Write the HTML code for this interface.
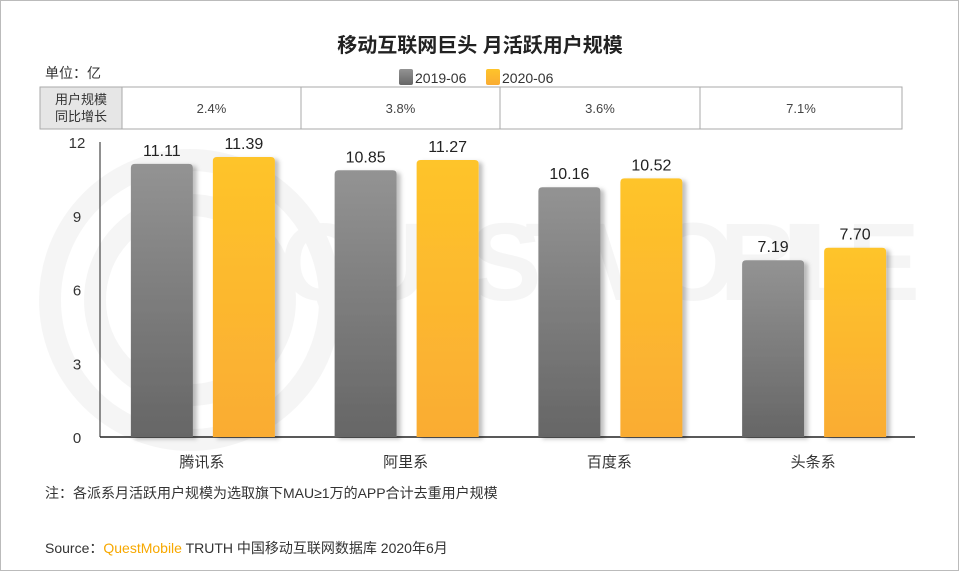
<!DOCTYPE html>
<html><head><meta charset="utf-8"><style>
body{margin:0;background:#fff;}
#wrap{position:relative;width:960px;height:572px;overflow:hidden;font-family:"Liberation Sans","Noto Sans CJK SC",sans-serif;}
</style></head><body>
<div id="wrap">
<svg id="svg" width="960" height="572" xmlns="http://www.w3.org/2000/svg">
<defs>
<linearGradient id="gGray" x1="0" y1="0" x2="0" y2="1"><stop offset="0" stop-color="#939393"/><stop offset="1" stop-color="#666"/></linearGradient>
<linearGradient id="gYel" x1="0" y1="0" x2="0" y2="1"><stop offset="0" stop-color="#fec42a"/><stop offset="1" stop-color="#faac33"/></linearGradient>
<filter id="sh" x="-20%" y="-5%" width="150%" height="110%"><feDropShadow dx="4" dy="2" stdDeviation="2" flood-color="#000" flood-opacity="0.25"/></filter>
</defs>
<rect x="0.5" y="0.5" width="958" height="570" fill="#fff" stroke="#bbb"/>
<g opacity="0.035">
<circle cx="190" cy="300" r="140" fill="none" stroke="#000" stroke-width="22"/>
<circle cx="190" cy="300" r="95" fill="none" stroke="#000" stroke-width="22"/>
<text x="280" y="300" font-size="110" font-weight="bold" fill="#000" textLength="640">QUESTMOBILE</text>
</g>
<text x="480" y="52" text-anchor="middle" font-size="20" font-weight="bold" fill="#222">移动互联网巨头 月活跃用户规模</text>
<text x="45" y="78" font-size="14" fill="#333">单位：亿</text>
<g>
<rect x="399" y="69" width="14" height="16" rx="2" fill="url(#gGray)"/>
<text x="415" y="83" font-size="14" fill="#333">2019-06</text>
<rect x="486" y="69" width="14" height="16" rx="2" fill="url(#gYel)"/>
<text x="502" y="83" font-size="14" fill="#333">2020-06</text>
</g>
<g id="table">
<rect x="40" y="87" width="82" height="42" fill="#e6e6e6" stroke="#aaa"/>
<text x="81" y="104" text-anchor="middle" font-size="13" fill="#333">用户规模</text>
<text x="81" y="121" text-anchor="middle" font-size="13" fill="#333">同比增长</text>
</g>
<g id="axes"></g>
<g id="bars"></g>
<text x="45" y="498" font-size="14" fill="#333">注：各派系月活跃用户规模为选取旗下MAU≥1万的APP合计去重用户规模</text>
<text x="45" y="553" font-size="14" fill="#333">Source：<tspan fill="#f7a800">QuestMobile</tspan> TRUTH 中国移动互联网数据库 2020年6月</text>
</svg>
</div>
<script>
const categories=["腾讯系","阿里系","百度系","头条系"];
const series2019=[11.11,10.85,10.16,7.19];
const series2020=[11.39,11.27,10.52,7.70];
const growth=["2.4%","3.8%","3.6%","7.1%"];
const yTicks=[0,3,6,9,12];
const NS="http://www.w3.org/2000/svg";
const x0=100,x1=915,yB=437,yT=142,yMax=12;
const bandW=(x1-x0)/categories.length;
const yS=v=>yB-(v/yMax)*(yB-yT);
const bx=i=>x0+i*bandW;
function mk(t,a,p){const e=document.createElementNS(NS,t);for(const k in a)e.setAttribute(k,a[k]);(p||document.getElementById('bars')).appendChild(e);return e;}
const ax=document.getElementById('axes');
const tb=document.getElementById('table');
const colB=[122,301,500,700,902];
growth.forEach((g,i)=>{
 const r=mk('rect',{x:colB[i],y:87,width:colB[i+1]-colB[i],height:42,fill:'#fff',stroke:'#aaa'},tb);
 
 
 const t=mk('text',{x:(colB[i]+colB[i+1])/2,y:113,'text-anchor':'middle','font-size':13,fill:'#444'},tb);
 t.textContent=g;
 
 
});
const yl=mk('line',{x1:x0,y1:yT,x2:x0,y2:yB,stroke:'#222','stroke-width':1},ax);


const xl=mk('line',{x1:x0,y1:yB,x2:x1,y2:yB,stroke:'#222','stroke-width':1.5},ax);


yTicks.forEach(v=>{
 const t=mk('text',{x:77,y:yS(v)+6,'text-anchor':'middle','font-size':15,fill:'#333'},ax);
 t.textContent=v;
 
 
});
categories.forEach((c,i)=>{
 const cx=bx(i)+bandW/2;
 const t=mk('text',{x:cx,y:467,'text-anchor':'middle','font-size':15,fill:'#333'},ax);
 t.textContent=c;
 
 
 [[series2019[i],'url(#gGray)',-71],[series2020[i],'url(#gYel)',11]].forEach((s,j)=>{
  const x=cx+s[2],y=yS(s[0]);
  const b=mk('path',{d:`M${x},${yB}V${y+4}Q${x},${y} ${x+4},${y}H${x+58}Q${x+62},${y} ${x+62},${y+4}V${yB}Z`,fill:s[1],filter:'url(#sh)'});
  
  
  const l=mk('text',{x:x+31,y:y-8,'text-anchor':'middle','font-size':16,fill:'#222'});
  l.textContent=s[0].toFixed(2);
  
  
 });
});
</script>
</body></html>
